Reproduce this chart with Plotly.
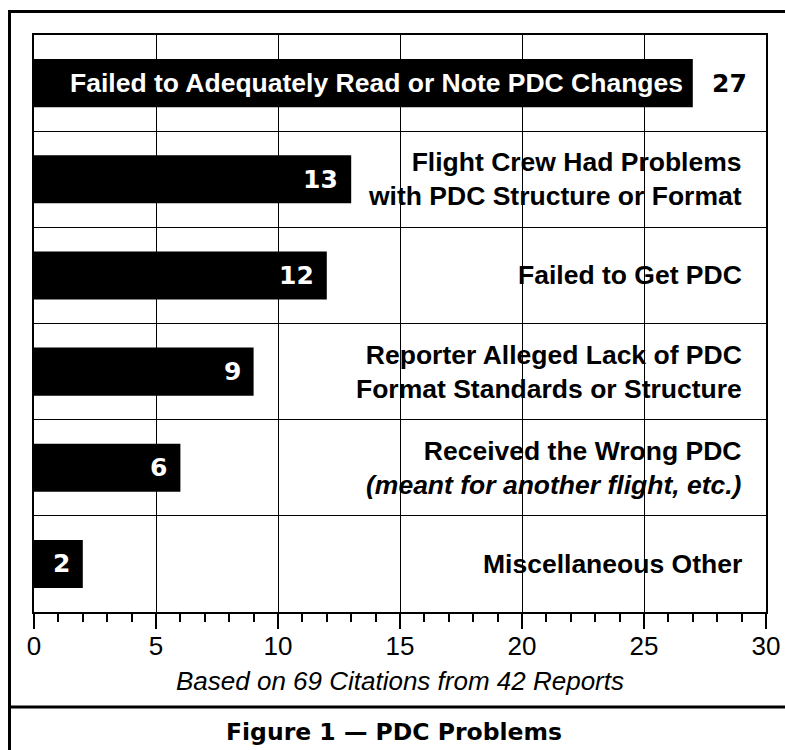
import plotly.graph_objects as go

categories = [
    "Failed to Adequately Read or Note PDC Changes",
    "Flight Crew Had Problems<br>with PDC Structure or Format",
    "Failed to Get PDC",
    "Reporter Alleged Lack of PDC<br>Format Standards or Structure",
    "Received the Wrong PDC<br><i>(meant for another flight, etc.)</i>",
    "Miscellaneous Other",
]
values = [27, 13, 12, 9, 6, 2]
x_ticks = [0, 5, 10, 15, 20, 25, 30]
x_title = "Based on 69 Citations from 42 Reports"
fig_title = "Figure 1 — PDC Problems"

W, H = 785, 750
L_S, R_S, T_S, B_S = 34, 766, 35, 612  # plot box in screen pixels
ML, MT = L_S, T_S
MR = W - R_S
MB = H - B_S
pw = W - ML - MR
ph = H - MT - MB

def px_x(p):
    return (p - L_S) / pw

def px_y(p):
    return (B_S - p) / ph

rows = list(range(len(categories)))
xmax = x_ticks[-1]

fig = go.Figure()
fig.add_trace(go.Bar(
    x=values, y=rows, orientation="h",
    marker=dict(color="black", line=dict(width=0)),
    width=0.5, hoverinfo="skip",
))

label_font = dict(family="Liberation Sans, Arial, sans-serif", size=26.5, color="black", weight="bold")
value_font = dict(family="DejaVu Sans, sans-serif", size=25, weight="bold")

annotations = []
for r, (cat, v) in enumerate(zip(categories, values)):
    if v > xmax * 0.8:
        annotations.append(dict(x=v, y=r, xref="x", yref="y", text=cat, showarrow=False,
                                xanchor="right", yanchor="middle", xshift=-8,
                                font=dict(label_font, color="white")))
        annotations.append(dict(x=v, y=r, xref="x", yref="y", text=str(v), showarrow=False,
                                xanchor="left", yanchor="middle", xshift=17,
                                font=dict(value_font, color="black")))
    else:
        annotations.append(dict(x=v, y=r, xref="x", yref="y", text=str(v), showarrow=False,
                                xanchor="right", yanchor="middle", xshift=-11,
                                font=dict(value_font, color="white")))
        annotations.append(dict(x=xmax - 1, y=r, xref="x", yref="y", text=cat, showarrow=False,
                                xanchor="right", yanchor="middle", align="right", xshift=2,
                                font=label_font))

annotations.append(dict(x=px_x(394), y=px_y(732), xref="paper", yref="paper", text=fig_title,
                        showarrow=False, xanchor="center", yanchor="middle",
                        font=dict(family="DejaVu Sans, sans-serif", size=23.5, weight="bold", color="black")))

shapes = [
    dict(type="line", xref="paper", yref="paper", x0=px_x(9.5), x1=px_x(800), y0=px_y(11.5), y1=px_y(11.5),
         line=dict(color="black", width=3)),
    dict(type="line", xref="paper", yref="paper", x0=px_x(9.5), x1=px_x(9.5), y0=px_y(10), y1=px_y(760),
         line=dict(color="black", width=3)),
    dict(type="line", xref="paper", yref="paper", x0=px_x(9.5), x1=px_x(800), y0=px_y(707), y1=px_y(707),
         line=dict(color="black", width=3)),
]

fig.update_layout(
    width=W, height=H,
    margin=dict(l=ML, r=MR, t=MT, b=MB, pad=0, autoexpand=False),
    paper_bgcolor="white", plot_bgcolor="white",
    showlegend=False,
    annotations=annotations, shapes=shapes,
    xaxis=dict(
        automargin=False,
        range=[0, xmax], tickvals=x_ticks, ticktext=[str(t) for t in x_ticks],
        showgrid=True, gridcolor="black", gridwidth=1,
        zeroline=False, showline=True, linecolor="black", linewidth=2, mirror=True,
        ticks="outside", ticklen=15, tickwidth=1.5, tickcolor="black",
        ticklabelstandoff=-5,
        minor=dict(dtick=1, ticks="outside", ticklen=8, tickwidth=1.5, tickcolor="black", showgrid=False),
        tickfont=dict(family="Liberation Sans, Arial, sans-serif", size=26, color="black"),
        title=dict(text=x_title, standoff=12,
                   font=dict(family="Liberation Sans, Arial, sans-serif", size=26, color="black", style="italic")),
        fixedrange=True,
    ),
    yaxis=dict(
        automargin=False,
        range=[len(categories) - 0.5, -0.5],
        tickvals=[r + 0.5 for r in rows[:-1]],
        showticklabels=False, ticks="",
        showgrid=True, gridcolor="black", gridwidth=1,
        zeroline=False, showline=True, linecolor="black", linewidth=2, mirror=True,
        fixedrange=True,
    ),
)

fig.write_html("out.html", config={"displayModeBar": False},
               post_script="document.body.style.margin='0px';document.body.style.overflow='hidden';")
